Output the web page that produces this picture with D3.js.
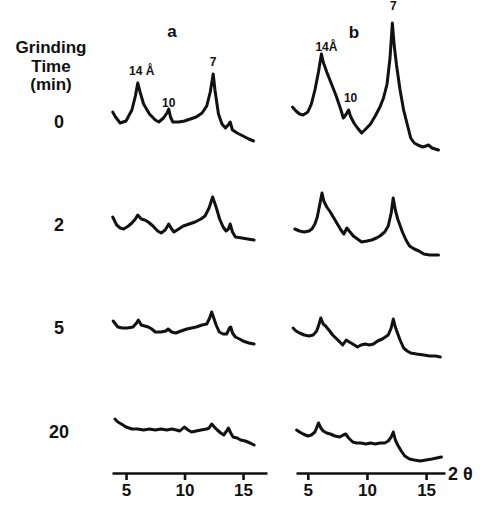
<!DOCTYPE html>
<html>
<head>
<meta charset="utf-8">
<script src="https://cdn.jsdelivr.net/npm/d3@7"></script>
<style>
  body { margin: 0; background: #fff; }
  text { font-family: "Liberation Sans", Arial, sans-serif; font-weight: bold; fill: #111; }
</style>
</head>
<body>
<div id="chart"></div>
<script>
// grinding times (rows, top to bottom)
var grindTimes = ["0", "2", "5", "20"];
var panels = ["a", "b"];
var tickLabels = [5, 10, 15];

// panel a traces: [2theta, intensity]
var a0 = [[3.86,48],[4.1,43],[4.5,37],[5.0,39],[5.5,50],[5.8,64],[6.0,77],[6.2,68],[6.5,56],[7.0,46],[7.5,40],[7.8,38],[8.2,42],[8.5,47],[8.65,51],[8.8,43],[9.0,38],[9.5,38],[10.0,39],[10.5,41],[11.0,43],[11.5,47],[11.9,54],[12.2,68],[12.45,86],[12.6,70],[12.9,46],[13.2,36],[13.5,32],[13.8,36],[13.9,38],[14.1,30],[14.5,27],[15.0,24],[15.5,21],[15.9,19]];
var a1 = [[3.86,48],[4.2,40],[4.5,37],[4.8,36],[5.2,39],[5.5,42],[5.8,46],[6.0,50],[6.3,46],[6.6,45],[6.9,43],[7.3,39],[7.7,34],[8.0,32],[8.35,35],[8.65,41],[8.9,36],[9.1,33],[9.5,36],[9.9,39],[10.4,41],[10.9,43],[11.4,46],[11.75,49],[12.1,57],[12.4,68],[12.7,58],[13.0,46],[13.3,38],[13.55,34],[13.75,36],[13.9,41],[14.1,33],[14.35,28],[14.9,27],[15.4,26],[15.95,25]];
var a2 = [[3.9,44],[4.3,38],[4.7,37],[5.1,37],[5.6,38],[5.9,42],[6.05,45],[6.3,40],[6.6,39],[6.9,38],[7.2,36],[7.5,33],[8.0,33],[8.4,34],[8.6,36],[8.9,33],[9.25,32],[9.7,34],[10.2,36],[10.6,37],[11.0,38],[11.5,40],[11.9,41],[12.15,47],[12.32,53],[12.5,47],[12.7,40],[12.97,33],[13.3,31],[13.6,31],[13.85,37],[13.95,38],[14.1,32],[14.35,28],[14.7,26],[15.0,24],[15.5,22],[15.95,21]];
var a3 = [[4.05,46],[4.3,43],[4.6,41],[5.0,38],[5.5,36],[6.0,36],[6.5,35],[7.0,36],[7.5,35],[8.0,36],[8.5,35],[8.9,36],[9.3,35],[9.6,34],[9.98,38],[10.3,35],[10.6,33],[11.0,34],[11.4,35],[11.9,36],[12.1,37],[12.32,41],[12.55,38],[12.8,35],[13.1,32],[13.35,30],[13.6,34],[13.75,37],[13.95,32],[14.15,28],[14.5,27],[14.8,25],[15.2,24],[15.6,22],[15.95,20]];

// panel b traces
var b0 = [[3.7,53],[4.0,49],[4.3,46],[4.6,45],[5.0,48],[5.3,56],[5.6,70],[5.9,88],[6.15,106],[6.3,98],[6.6,88],[7.0,76],[7.4,64],[7.8,50],[8.0,42],[8.2,45],[8.45,50],[8.6,44],[8.9,37],[9.2,32],[9.55,27],[9.9,31],[10.3,36],[10.7,44],[11.1,53],[11.4,62],[11.7,76],[11.95,102],[12.15,137],[12.3,115],[12.5,95],[12.8,70],[13.1,50],[13.4,36],[13.7,22],[14.0,17],[14.3,15],[14.7,13],[15.0,14],[15.2,15],[15.5,12],[16.05,10]];
var b1 = [[3.9,36],[4.3,34],[4.7,33],[5.1,34],[5.35,36],[5.6,41],[5.8,48],[6.0,60],[6.2,72],[6.35,64],[6.6,58],[6.9,53],[7.2,47],[7.5,41],[7.8,35],[8.05,31],[8.3,37],[8.5,34],[8.85,29],[9.2,26],[9.55,23],[10.0,24],[10.4,25],[10.8,27],[11.1,29],[11.5,33],[11.8,39],[12.05,52],[12.22,67],[12.4,55],[12.6,46],[13.0,33],[13.3,25],[13.6,19],[14.0,16],[14.4,14],[14.8,11],[15.3,10],[15.7,10],[16.05,10]];
var b2 = [[3.75,37],[4.0,34],[4.3,32],[4.7,30],[5.1,29],[5.45,30],[5.75,34],[5.95,41],[6.1,47],[6.3,41],[6.5,39],[6.85,34],[7.1,30],[7.45,26],[7.95,20],[8.25,25],[8.5,23],[8.8,21],[9.2,18],[9.5,20],[9.85,21],[10.2,20],[10.55,21],[10.9,24],[11.3,26],[11.8,30],[12.05,37],[12.23,46],[12.4,38],[12.55,33],[12.8,25],[13.1,17],[13.4,14],[13.7,12],[14.2,11],[14.8,10],[15.3,9],[15.8,9],[16.2,8]];
var b3 = [[4.05,35],[4.3,33],[4.6,31],[5.0,29],[5.3,30],[5.6,33],[5.9,42],[6.1,37],[6.3,34],[6.6,32],[6.9,31],[7.3,29],[7.7,28],[8.0,30],[8.2,31],[8.45,27],[8.8,23],[9.1,22],[9.5,22],[9.9,21],[10.3,22],[10.7,21],[11.1,22],[11.5,22],[11.8,24],[12.05,28],[12.23,33],[12.4,25],[12.6,20],[12.9,14],[13.2,9],[13.6,6],[14.0,5],[14.5,4],[15.0,5],[15.5,6],[15.9,7],[16.3,8]];

var tracesA = [a0, a1, a2, a3];
var tracesB = [b0, b1, b2, b3];

// peak labels for the 0 min traces: [label, 2theta, intensity]
var peaksA = [["14 Å", 6.0, 77], ["10", 8.65, 51], ["7", 12.45, 86]];
var peaksB = [["14Å", 6.15, 106], ["10", 8.45, 50], ["7", 12.15, 137]];

// layout
var width = 484;
var height = 506;
var axisY = 473;
var rowBase = [160, 265, 365, 465];
var rowLabelY = [128, 231, 334, 438];
var lineW = 3;
// label nudges [dx, dy] from the peak top
var nudgeA = [[4, -8], [0, -2], [0, -8]];
var nudgeB = [[5, -3], [2, -8], [1, -13]];

var svg = d3.select("#chart").append("svg")
  .attr("width", width)
  .attr("height", height);

var xA = d3.scaleLinear().domain([3.8, 17.05]).range([112, 267]);
var xB = d3.scaleLinear().domain([4.0, 16.6]).range([296, 445]);

var yRow = rowBase.map(function(b) {
  return d3.scaleLinear().domain([0, 100]).range([b, b - 100]);
});

function drawPanel(x, traces, peaks, nudge) {
  var g = svg.append("g");
  traces.forEach(function(tr, i) {
    var line = d3.line()
      .x(function(d) { return x(d[0]); })
      .y(function(d) { return yRow[i](d[1]); });
    g.append("path")
      .datum(tr)
      .attr("d", line)
      .attr("fill", "none")
      .attr("stroke", "#111")
      .attr("stroke-width", lineW)
      .attr("stroke-linejoin", "round")
      .attr("stroke-linecap", "round");
  });

  //peak labels
  peaks.forEach(function(p, i) {
    g.append("text")
      .attr("x", x(p[1]) + nudge[i][0])
      .attr("y", yRow[0](p[2]) + nudge[i][1])
      .attr("text-anchor", "middle")
      .style("font-size", "12px")
      .text(p[0]);
  });

  //axis
  var axis = d3.axisBottom(x)
    .tickValues(tickLabels)
    .tickSize(7)
    .tickSizeOuter(0)
    .tickPadding(4);
  var ax = svg.append("g")
    .attr("transform", "translate(0," + axisY + ")")
    .call(axis);
  ax.select(".domain").attr("stroke", "#111").attr("stroke-width", 2.6);
  ax.selectAll(".tick line").attr("stroke", "#111").attr("stroke-width", 2.6);
  ax.selectAll(".tick text")
    .style("font-size", "17px")
    .style("font-family", "'Liberation Sans', Arial, sans-serif")
    .style("font-weight", "bold")
    .attr("fill", "#111");
}

drawPanel(xA, tracesA, peaksA, nudgeA);
drawPanel(xB, tracesB, peaksB, nudgeB);

//panel letters
svg.append("text").attr("x", 172).attr("y", 37)
  .attr("text-anchor", "middle").style("font-size", "17px").text(panels[0]);
svg.append("text").attr("x", 354).attr("y", 38)
  .attr("text-anchor", "middle").style("font-size", "17px").text(panels[1]);

//row title
var title = ["Grinding", "Time", "(min)"];
var titleY = [53, 72, 90];
title.forEach(function(t, i) {
  svg.append("text")
    .attr("x", 51)
    .attr("y", titleY[i])
    .attr("text-anchor", "middle")
    .style("font-size", "17px")
    .text(t);
});

grindTimes.forEach(function(t, i) {
  svg.append("text")
    .attr("x", 59)
    .attr("y", rowLabelY[i])
    .attr("text-anchor", "middle")
    .style("font-size", "18px")
    .text(t);
});

//axis title
svg.append("text")
  .attr("x", 448)
  .attr("y", 480)
  .style("font-size", "18px")
  .text("2 θ");
</script>
</body>
</html>
